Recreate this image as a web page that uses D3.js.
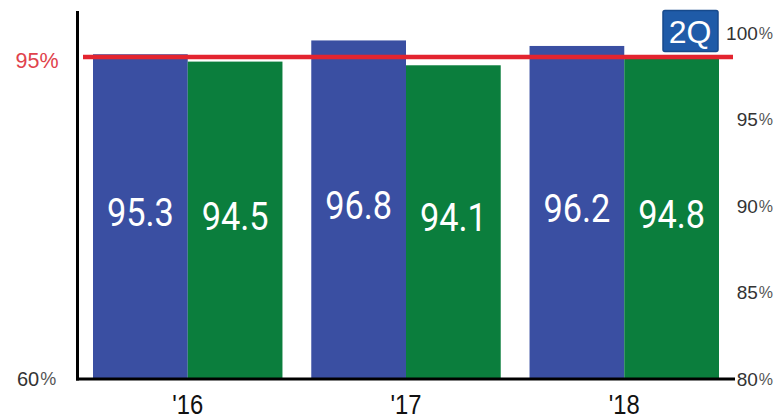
<!DOCTYPE html>
<html><head><meta charset="utf-8">
<script src="https://cdn.jsdelivr.net/npm/d3@7"></script>
<style>body{margin:0;background:#fff;} svg{display:block;}</style>
</head><body>
<svg id="c" width="774" height="420"></svg>
<script>
const years = ["'16", "'17", "'18"];
const seriesA = [95.3, 96.8, 96.2];   // blue
const seriesB = [94.5, 94.1, 94.8];   // green
const targetValue = 95;
const leftTicks = [60];
const rightTicks = [80, 85, 90, 95, 100];
const badgeText = "2Q";

const svg = d3.select("#c");
const x = d3.scaleBand().domain(years).range([78.6, 733.4]).paddingInner(0.132).paddingOuter(0.066);
const xs = d3.scaleBand().domain([0, 1]).range([0, x.bandwidth()]);
const yL = d3.scaleLinear().domain([60, 100]).range([379, 11]);
const yR = d3.scaleLinear().domain([80, 100]).range([378.5, 33]);
const colors = ["#3a4fa2", "#0b7e3d"];

const data = years.map((yr, i) => ({yr, vals: [seriesA[i], seriesB[i]]}));
const g = svg.append("g");
data.forEach(d => {
  d.vals.forEach((v, j) => {
    const bx = x(d.yr) + xs(j), bw = xs.bandwidth();
    g.append("rect").attr("x", bx).attr("y", yL(v)).attr("width", bw).attr("height", yL(60) - yL(v)).attr("fill", colors[j]);
    const cy = (yL(v) + yL(60)) / 2 - 4;
    g.append("text").attr("transform", `translate(${bx + bw / 2},${cy}) scale(0.88,1)`)
      .attr("text-anchor", "middle").attr("dominant-baseline", "central")
      .attr("font-family", "Roboto, Arial, sans-serif").attr("font-size", 39).attr("fill", "#fff")
      .text(v.toFixed(1));
  });
});

// axes lines
svg.append("line").attr("x1", 77.5).attr("x2", 77.5).attr("y1", yL(100)).attr("y2", yL(60) + 1.5).attr("stroke", "#000").attr("stroke-width", 3);
svg.append("line").attr("x1", 76).attr("x2", 735).attr("y1", yL(60)).attr("y2", yL(60)).attr("stroke", "#000").attr("stroke-width", 3);

// target line
svg.append("line").attr("x1", 83).attr("x2", 733).attr("y1", yL(targetValue)).attr("y2", yL(targetValue)).attr("stroke", "#e3242f").attr("stroke-width", 4.5);

// left labels
svg.append("text").attr("x", 37).attr("y", yL(targetValue) + 4).attr("text-anchor", "middle").attr("dominant-baseline", "central")
  .attr("font-family", "Arial, Liberation Sans, sans-serif").attr("font-size", 21.5).attr("fill", "#e0424c").text(targetValue + "%");
leftTicks.forEach(t => {
  const tx = svg.append("text").attr("x", 17).attr("y", yL(t)).attr("dominant-baseline", "central")
    .attr("font-family", "Arial, Liberation Sans, sans-serif").attr("font-size", 20).attr("fill", "#333");
  tx.append("tspan").text(t);
  tx.append("tspan").attr("font-size", 18).attr("fill", "#555").attr("dx", 1).text("%");
});

// right labels
rightTicks.forEach(t => {
  const tx = svg.append("text").attr("x", 773).attr("y", yR(t)).attr("text-anchor", "end").attr("dominant-baseline", "central")
    .attr("font-family", "Arial, Liberation Sans, sans-serif").attr("font-size", 19).attr("fill", "#333");
  tx.append("tspan").text(t);
  tx.append("tspan").attr("font-size", 16).attr("fill", "#555").attr("dx", 1).text("%");
});

// x labels
years.forEach(yr => {
  svg.append("text").attr("transform", `translate(${x(yr) + x.bandwidth() / 2},${404}) scale(0.85,1)`)
    .attr("text-anchor", "middle").attr("dominant-baseline", "central")
    .attr("font-family", "Arial, Liberation Sans, sans-serif").attr("font-size", 28).attr("fill", "#111").text(yr);
});

// badge
svg.append("rect").attr("x", 663).attr("y", 10.5).attr("width", 55).attr("height", 41).attr("rx", 2)
  .attr("fill", "#1f5ba8").attr("stroke", "#174a8c").attr("stroke-width", 1.5);
svg.append("text").attr("x", 690).attr("y", 31.5).attr("text-anchor", "middle").attr("dominant-baseline", "central")
  .attr("font-family", "Arial, Liberation Sans, sans-serif").attr("font-size", 32).attr("fill", "#fff").text(badgeText);
</script>
</body></html>
